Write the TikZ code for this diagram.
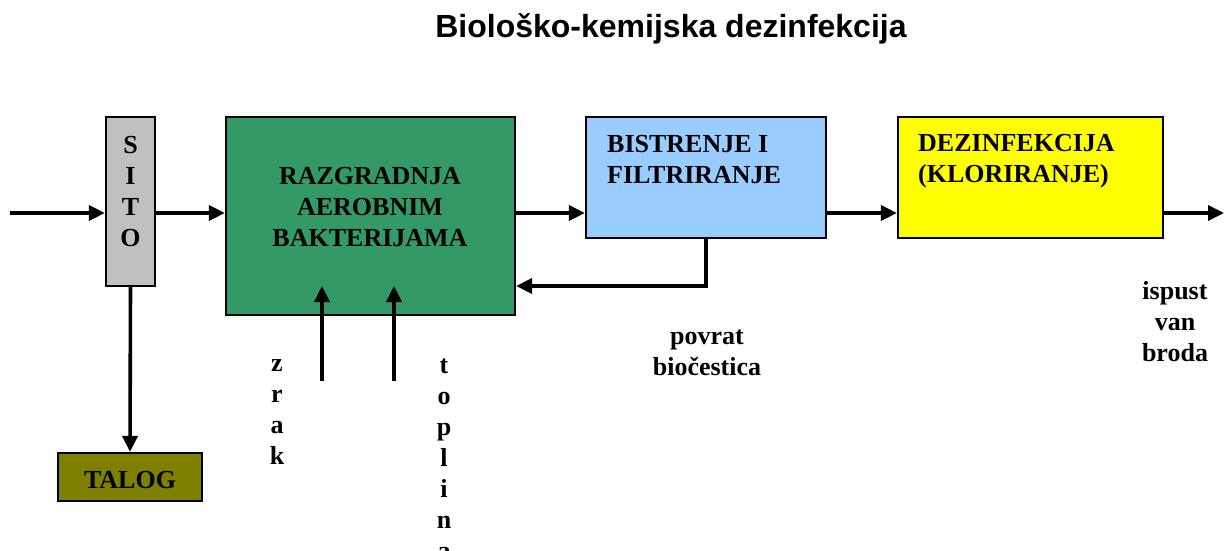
\documentclass[tikz,border=0pt]{standalone}
\usepackage{fontspec}
\setmainfont{Liberation Serif}
\newfontfamily\naslovfont{Liberation Sans}
\usetikzlibrary{arrows.meta}
\definecolor{sivo}{HTML}{C0C0C0}
\definecolor{zeleno}{HTML}{339966}
\definecolor{plavo}{HTML}{99CCFF}
\definecolor{zuto}{HTML}{FFFF00}
\definecolor{maslinasto}{HTML}{808000}
\tikzset{
    blok/.style={draw, line width=2.2pt, inner sep=0pt},
    natpis/.style={font=\bfseries\fontsize{26}{31}\selectfont, align=center, inner sep=0pt},
    tok/.style={line width=3.6pt, -{Triangle[length=16pt,width=15pt]}},
}
\begin{document}
\begin{tikzpicture}[x=1pt, y=-1pt]
            \useasboundingbox (0,0) rectangle (1224,551);
            \node[font=\naslovfont\bfseries\fontsize{32}{38}\selectfont] (naslov) at (671,29) {Biološko-kemijska dezinfekcija};
            % blokovi
            \node[blok, fill=sivo, minimum width=49pt, minimum height=169pt] (sito) at (130.5,201.5) {};
            \node[blok, fill=zeleno, minimum width=289pt, minimum height=198pt] (razg) at (370.5,216) {};
            \node[blok, fill=plavo, minimum width=240pt, minimum height=121pt] (bistr) at (706,177.5) {};
            \node[blok, fill=zuto, minimum width=265pt, minimum height=121pt] (dezin) at (1030.5,177.5) {};
            \node[blok, fill=maslinasto, minimum width=144pt, minimum height=48pt] (talog) at (130,477) {};
            % tekstovi
            \node[natpis] (sitotxt) at (130.5,192) {S\\I\\T\\O};
            \node[natpis] (razgtxt) at (370,207) {RAZGRADNJA\\AEROBNIM\\BAKTERIJAMA};
            \node[natpis, align=left, anchor=west] (bistrtxt) at (607,160) {BISTRENJE I\\FILTRIRANJE};
            \node[natpis, align=left, anchor=west] (dezintxt) at (918,161) {DEZINFEKCIJA\\(KLORIRANJE)};
            \node[natpis] (talogtxt) at (130,480) {TALOG};
            \node[natpis] (zrak) at (277,412) {z\\r\\a\\k};
            \node[natpis] (toplina) at (444,459) {t\\o\\p\\l\\i\\n\\a};
            \node[natpis] (povrat) at (707,353) {povrat\\biočestica};
            \node[natpis] (ispust) at (1175,322) {ispust\\van\\broda};
            % tokovi
            \coordinate (ulaz) at (10,213);
            \coordinate (izlaz) at (1224,213);
            \coordinate (povr) at (0,286);
            \draw[tok] (ulaz) -- (sito.west |- ulaz);
            \foreach \a/\b in {sito/razg, razg/bistr, bistr/dezin} {
                    \draw[tok] (\a.east |- ulaz) -- (\b.west |- ulaz);
                }
            \draw[tok] (dezin.east |- ulaz) -- (izlaz);
            \draw[tok] (sito.south) -- (talog.north);
            \draw[tok] (bistr.south) |- (razg.east |- povr);
            \foreach \x/\ime in {322/zrakulaz, 394/toplulaz} {
                    \coordinate (\ime) at (\x,381);
                    \draw[tok] (\ime) -- ++(0,-95);
                }
        \end{tikzpicture}
\end{document}
